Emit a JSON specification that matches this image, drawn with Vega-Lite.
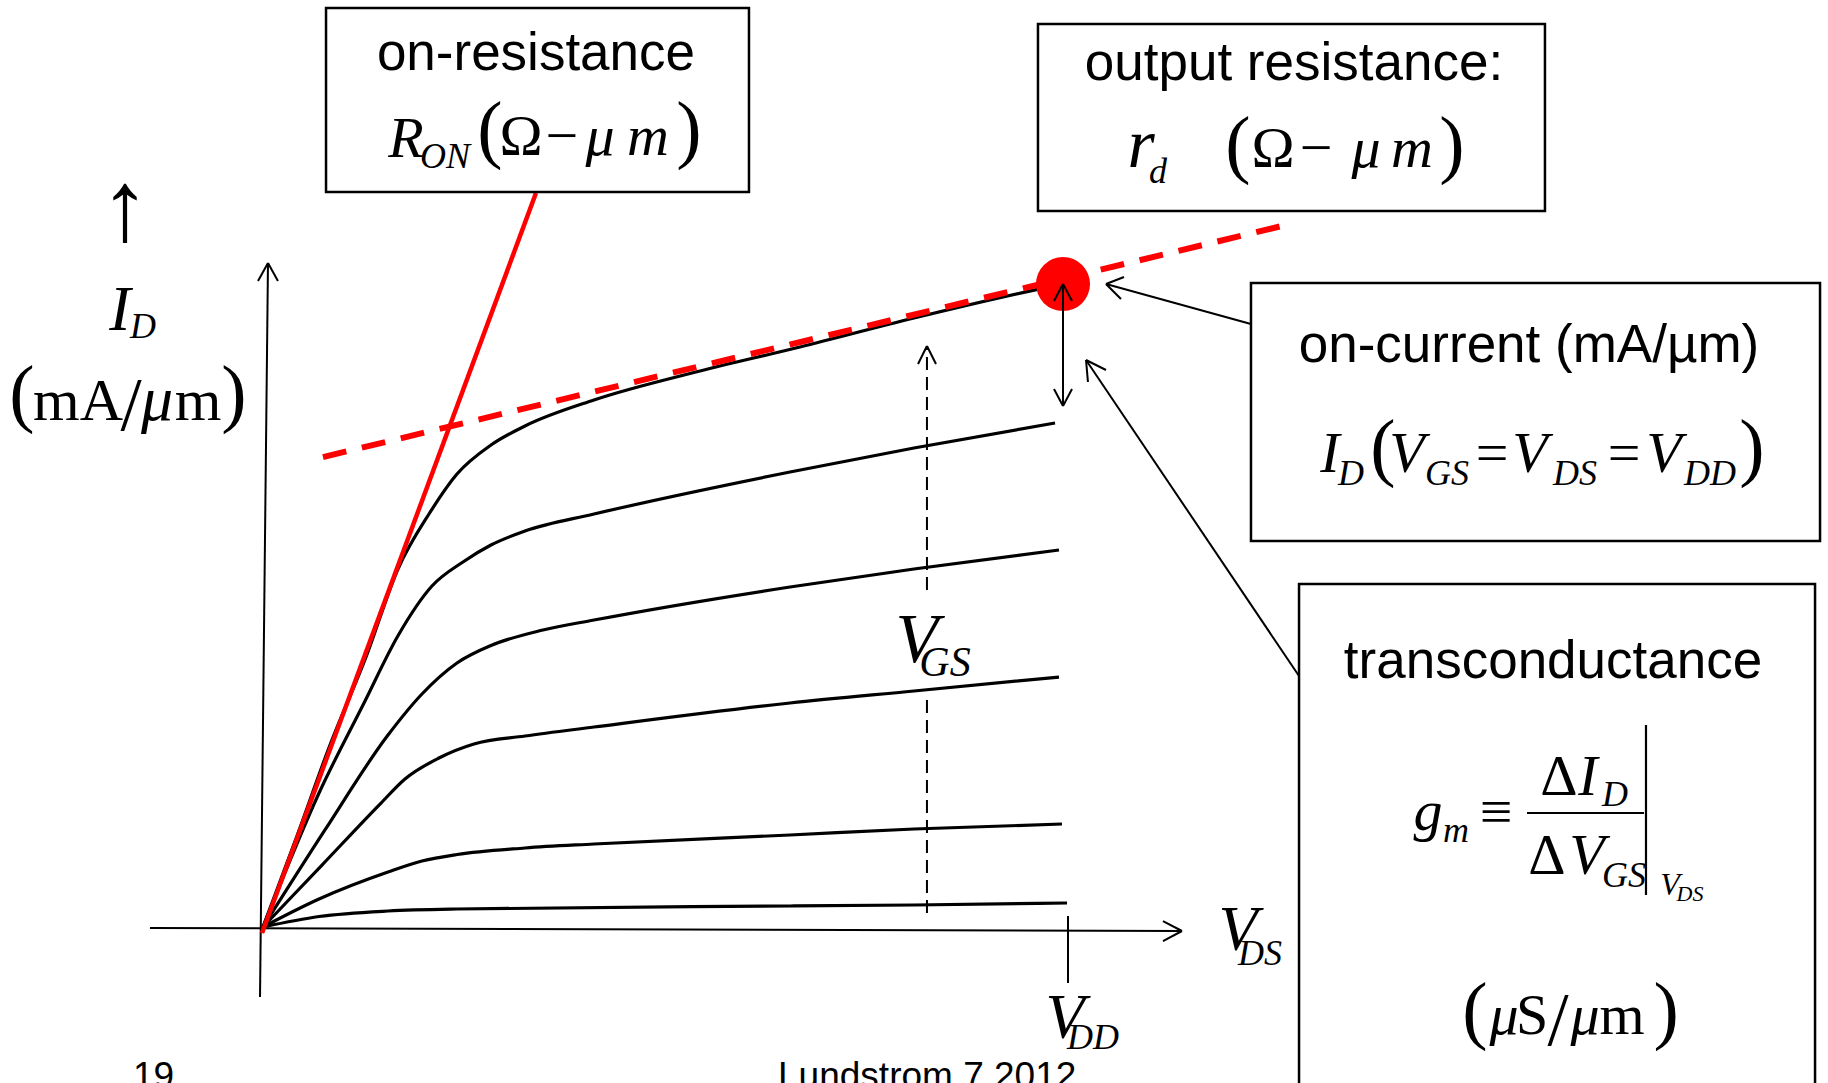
{
  "$schema": "https://vega.github.io/schema/vega-lite/v6.json",
  "width": 1828,
  "height": 1083,
  "autosize": {"type": "fit", "contains": "padding"},
  "padding": 0,
  "background": "white",
  "config": {"view": {"stroke": null}},
  "datasets": {
    "curves": [
      {"curve": 1, "x": 0, "y": 0}, {"curve": 1, "x": 0.0422, "y": 0.1415}, {"curve": 1, "x": 0.0832, "y": 0.2830}, {"curve": 1, "x": 0.1280, "y": 0.4199}, {"curve": 1, "x": 0.1677, "y": 0.5568}, {"curve": 1, "x": 0.2062, "y": 0.6423}, {"curve": 1, "x": 0.2410, "y": 0.7045}, {"curve": 1, "x": 0.2832, "y": 0.7496}, {"curve": 1, "x": 0.3255, "y": 0.7792}, {"curve": 1, "x": 0.4112, "y": 0.8196}, {"curve": 1, "x": 0.5429, "y": 0.8647}, {"curve": 1, "x": 0.6671, "y": 0.9020}, {"curve": 1, "x": 0.8087, "y": 0.9471}, {"curve": 1, "x": 0.9652, "y": 0.9925}, {"curve": 1, "x": 0.9938, "y": 1.0},
      {"curve": 2, "x": 0, "y": 0}, {"curve": 2, "x": 0.0696, "y": 0.2084}, {"curve": 2, "x": 0.1255, "y": 0.3484}, {"curve": 2, "x": 0.1677, "y": 0.4530}, {"curve": 2, "x": 0.2099, "y": 0.5303}, {"curve": 2, "x": 0.2484, "y": 0.5677}, {"curve": 2, "x": 0.2832, "y": 0.5941}, {"curve": 2, "x": 0.3255, "y": 0.6159}, {"curve": 2, "x": 0.4112, "y": 0.6423}, {"curve": 2, "x": 0.6547, "y": 0.7076}, {"curve": 2, "x": 0.8087, "y": 0.7449}, {"curve": 2, "x": 0.9839, "y": 0.7838},
      {"curve": 3, "x": 0, "y": 0}, {"curve": 3, "x": 0.0770, "y": 0.1509}, {"curve": 3, "x": 0.1553, "y": 0.2986}, {"curve": 3, "x": 0.1975, "y": 0.3624}, {"curve": 3, "x": 0.2410, "y": 0.4106}, {"curve": 3, "x": 0.2832, "y": 0.4378}, {"curve": 3, "x": 0.3478, "y": 0.4619}, {"curve": 3, "x": 0.4112, "y": 0.4774}, {"curve": 3, "x": 0.6547, "y": 0.5288}, {"curve": 3, "x": 0.8087, "y": 0.5568}, {"curve": 3, "x": 0.9888, "y": 0.5863},
      {"curve": 4, "x": 0, "y": 0}, {"curve": 4, "x": 0.0733, "y": 0.0964}, {"curve": 4, "x": 0.1466, "y": 0.1928}, {"curve": 4, "x": 0.1764, "y": 0.2302}, {"curve": 4, "x": 0.2186, "y": 0.2628}, {"curve": 4, "x": 0.2621, "y": 0.2846}, {"curve": 4, "x": 0.3255, "y": 0.2970}, {"curve": 4, "x": 0.4112, "y": 0.3110}, {"curve": 4, "x": 0.6547, "y": 0.3484}, {"curve": 4, "x": 0.8087, "y": 0.3670}, {"curve": 4, "x": 0.9888, "y": 0.3888},
      {"curve": 5, "x": 0, "y": 0}, {"curve": 5, "x": 0.0696, "y": 0.0435}, {"curve": 5, "x": 0.1553, "y": 0.0855}, {"curve": 5, "x": 0.1975, "y": 0.1026}, {"curve": 5, "x": 0.2410, "y": 0.1128}, {"curve": 5, "x": 0.3255, "y": 0.1229}, {"curve": 5, "x": 0.4112, "y": 0.1291}, {"curve": 5, "x": 0.6547, "y": 0.1431}, {"curve": 5, "x": 0.8087, "y": 0.1524}, {"curve": 5, "x": 0.9925, "y": 0.1602},
      {"curve": 6, "x": 0, "y": 0}, {"curve": 6, "x": 0.0696, "y": 0.0163}, {"curve": 6, "x": 0.1553, "y": 0.0249}, {"curve": 6, "x": 0.2410, "y": 0.0280}, {"curve": 6, "x": 0.6547, "y": 0.0327}, {"curve": 6, "x": 0.8087, "y": 0.0342}, {"curve": 6, "x": 0.9988, "y": 0.0373}
    ],
    "segments": [
      {"kind": "axis", "x": -0.0037, "y": -0.1089, "x2": 0.0062, "y2": 1.0327},
      {"kind": "axis", "x": 0.0062, "y": 1.0327, "x2": -0.0062, "y2": 1.0047},
      {"kind": "axis", "x": 0.0062, "y": 1.0327, "x2": 0.0186, "y2": 1.0047},
      {"kind": "axis", "x": -0.1404, "y": -0.0016, "x2": 1.1416, "y2": -0.0062},
      {"kind": "axis", "x": 1.1416, "y": -0.0062, "x2": 1.1180, "y2": 0.0093},
      {"kind": "axis", "x": 1.1416, "y": -0.0062, "x2": 1.1180, "y2": -0.0218},
      {"kind": "axis", "x": 1.0, "y": 0.0171, "x2": 1.0, "y2": -0.0871},
      {"kind": "pointer", "x": 0.9938, "y": 1.0, "x2": 0.9938, "y2": 0.8103},
      {"kind": "pointer", "x": 0.9938, "y": 1.0, "x2": 0.9826, "y2": 0.9736},
      {"kind": "pointer", "x": 0.9938, "y": 1.0, "x2": 1.0050, "y2": 0.9736},
      {"kind": "pointer", "x": 0.9938, "y": 0.8103, "x2": 0.9826, "y2": 0.8367},
      {"kind": "pointer", "x": 0.9938, "y": 0.8103, "x2": 1.0050, "y2": 0.8367},
      {"kind": "pointer", "x": 1.2273, "y": 0.9378, "x2": 1.0472, "y2": 1.0},
      {"kind": "pointer", "x": 1.0472, "y": 1.0, "x2": 1.0696, "y2": 1.0109},
      {"kind": "pointer", "x": 1.0472, "y": 1.0, "x2": 1.0658, "y2": 0.9767},
      {"kind": "pointer", "x": 1.2870, "y": 0.3904, "x2": 1.0224, "y2": 0.8818},
      {"kind": "pointer", "x": 1.0224, "y": 0.8818, "x2": 1.0248, "y2": 0.8476},
      {"kind": "pointer", "x": 1.0224, "y": 0.8818, "x2": 1.0472, "y2": 0.8663},
      {"kind": "pointer", "x": 0.8248, "y": 0.9036, "x2": 0.8137, "y2": 0.8756},
      {"kind": "pointer", "x": 0.8248, "y": 0.9036, "x2": 0.8360, "y2": 0.8756},
      {"kind": "formula", "x": 1.5702, "y": 0.1773, "x2": 1.7155, "y2": 0.1773},
      {"kind": "formula", "x": 1.7180, "y": 0.3142, "x2": 1.7180, "y2": 0.0498},
      {"kind": "vgs", "x": 0.8248, "y": 0.0218, "x2": 0.8248, "y2": 0.3639},
      {"kind": "vgs", "x": 0.8248, "y": 0.5241, "x2": 0.8248, "y2": 0.9036},
      {"kind": "ron", "x": -0.0012, "y": -0.0093, "x2": 0.3391, "y2": 1.1415},
      {"kind": "rd", "x": 0.0745, "y": 0.7309, "x2": 1.2708, "y2": 1.0918}
    ],
    "ion": [{"x": 0.9938, "y": 1.0}],
    "boxes": [
      {"box": "on-resistance", "x": 0.0783, "y": 1.4292, "x2": 0.6037, "y2": 1.1431},
      {"box": "output resistance", "x": 0.9627, "y": 1.4044, "x2": 1.5925, "y2": 1.1135},
      {"box": "on-current", "x": 1.2273, "y": 1.0016, "x2": 1.9342, "y2": 0.6003},
      {"box": "transconductance", "x": 1.2870, "y": 0.5334, "x2": 1.9280, "y2": -0.2691}
    ],
    "labels": [
      {"text": "on-resistance", "role": "text", "x": 0.3391, "y": 1.3328},
      {"text": "output resistance:", "role": "text", "x": 1.2807, "y": 1.3173},
      {"text": "on-current (mA/µm)", "role": "text", "x": 1.5727, "y": 0.8787},
      {"text": "transconductance", "role": "text", "x": 1.6025, "y": 0.3872},
      {"text": "19", "role": "footer", "x": -0.1615, "y": -0.2504},
      {"text": "Lundstrom 7.2012", "role": "footer", "x": 0.6398, "y": -0.2504},
      {"text": "↑", "role": "arrowglyph", "x": -0.1714, "y": 1.0684},
      {"text": "I", "role": "bigvar", "x": -0.1777, "y": 0.9285},
      {"text": "μ", "role": "bigvar", "x": -0.1317, "y": 0.7885},
      {"text": "V", "role": "bigvar", "x": 1.2112, "y": -0.0358},
      {"text": "V", "role": "bigvar", "x": 0.9963, "y": -0.1726},
      {"text": "V", "role": "hugevar", "x": 0.8124, "y": 0.4121},
      {"text": "r", "role": "hugevar", "x": 1.0907, "y": 1.1820},
      {"text": "D", "role": "sub", "x": -0.1491, "y": 0.9160},
      {"text": "ON", "role": "sub", "x": 0.2261, "y": 1.1804},
      {"text": "d", "role": "sub", "x": 1.1118, "y": 1.1571},
      {"text": "D", "role": "sub", "x": 1.3516, "y": 0.6874},
      {"text": "GS", "role": "sub", "x": 1.4708, "y": 0.6874},
      {"text": "DS", "role": "sub", "x": 1.6298, "y": 0.6874},
      {"text": "DD", "role": "sub", "x": 1.7975, "y": 0.6874},
      {"text": "m", "role": "sub", "x": 1.4820, "y": 0.1322},
      {"text": "D", "role": "sub", "x": 1.6795, "y": 0.1882},
      {"text": "GS", "role": "sub", "x": 1.6907, "y": 0.0622},
      {"text": "DS", "role": "sub", "x": 1.2385, "y": -0.0591},
      {"text": "DD", "role": "sub", "x": 1.0311, "y": -0.1897},
      {"text": "GS", "role": "bigsub", "x": 0.8472, "y": 0.3904},
      {"text": "R", "role": "var", "x": 0.1776, "y": 1.1975},
      {"text": "μ", "role": "var", "x": 0.4186, "y": 1.2006},
      {"text": "m", "role": "var", "x": 0.4783, "y": 1.2006},
      {"text": "μ", "role": "var", "x": 1.3702, "y": 1.1820},
      {"text": "m", "role": "var", "x": 1.4273, "y": 1.1820},
      {"text": "I", "role": "var", "x": 1.3255, "y": 0.7076},
      {"text": "V", "role": "var", "x": 1.4211, "y": 0.7076},
      {"text": "V", "role": "var", "x": 1.5739, "y": 0.7076},
      {"text": "V", "role": "var", "x": 1.7404, "y": 0.7076},
      {"text": "g", "role": "var", "x": 1.4472, "y": 0.1509},
      {"text": "I", "role": "var", "x": 1.6460, "y": 0.2053},
      {"text": "V", "role": "var", "x": 1.6447, "y": 0.0824},
      {"text": "μ", "role": "var", "x": 1.5416, "y": -0.1664},
      {"text": "μ", "role": "var", "x": 1.6422, "y": -0.1664},
      {"text": "Ω", "role": "sym", "x": 0.3205, "y": 1.2006},
      {"text": "−", "role": "sym", "x": 0.3714, "y": 1.2006},
      {"text": "Ω", "role": "sym", "x": 1.2547, "y": 1.1820},
      {"text": "−", "role": "sym", "x": 1.3081, "y": 1.1820},
      {"text": "=", "role": "sym", "x": 1.5267, "y": 0.7076},
      {"text": "=", "role": "sym", "x": 1.6907, "y": 0.7076},
      {"text": "≡", "role": "sym", "x": 1.5317, "y": 0.1493},
      {"text": "Δ", "role": "sym", "x": 1.6099, "y": 0.2053},
      {"text": "Δ", "role": "sym", "x": 1.5950, "y": 0.0824},
      {"text": "S", "role": "sym", "x": 1.5764, "y": -0.1664},
      {"text": "m", "role": "sym", "x": 1.6882, "y": -0.1664},
      {"text": "mA", "role": "bigsym", "x": -0.2298, "y": 0.7885},
      {"text": "m", "role": "bigsym", "x": -0.0807, "y": 0.7885},
      {"text": "(", "role": "delim", "x": 0.2820, "y": 1.2022},
      {"text": ")", "role": "delim", "x": 0.5292, "y": 1.2022},
      {"text": "(", "role": "delim", "x": 1.2112, "y": 1.1788},
      {"text": ")", "role": "delim", "x": 1.4770, "y": 1.1788},
      {"text": "(", "role": "delim", "x": 1.3913, "y": 0.7076},
      {"text": ")", "role": "delim", "x": 1.8497, "y": 0.7076},
      {"text": "(", "role": "delim", "x": 1.5056, "y": -0.1680},
      {"text": "/", "role": "delim", "x": 1.6087, "y": -0.1835},
      {"text": ")", "role": "delim", "x": 1.7429, "y": -0.1680},
      {"text": "(", "role": "delim", "x": -0.2994, "y": 0.7916},
      {"text": "/", "role": "delim", "x": -0.1640, "y": 0.7729},
      {"text": ")", "role": "delim", "x": -0.0360, "y": 0.7916},
      {"text": "V", "role": "tinyvar", "x": 1.7478, "y": 0.0498},
      {"text": "DS", "role": "tinysub", "x": 1.7727, "y": 0.0404}
    ]
  },
  "encoding": {
    "x": {"field": "x", "type": "quantitative", "scale": {"domain": [-0.3267, 1.9441], "nice": false, "zero": false}, "axis": null},
    "y": {"field": "y", "type": "quantitative", "scale": {"domain": [-0.2426, 1.4417], "nice": false, "zero": false}, "axis": null}
  },
  "layer": [
    {"data": {"name": "segments"}, "transform": [{"filter": {"field": "kind", "equal": "axis"}}],
     "mark": {"type": "rule", "color": "black", "strokeWidth": 2, "clip": true},
     "encoding": {"x2": {"field": "x2"}, "y2": {"field": "y2"}}},
    {"data": {"name": "curves"},
     "mark": {"type": "line", "interpolate": "monotone", "color": "black", "strokeWidth": 3.2, "clip": true},
     "encoding": {"detail": {"field": "curve", "type": "nominal"}}},
    {"data": {"name": "segments"}, "transform": [{"filter": {"field": "kind", "equal": "ron"}}],
     "mark": {"type": "rule", "color": "#ff0000", "strokeWidth": 4.5, "clip": true},
     "encoding": {"x2": {"field": "x2"}, "y2": {"field": "y2"}}},
    {"data": {"name": "segments"}, "transform": [{"filter": {"field": "kind", "equal": "rd"}}],
     "mark": {"type": "rule", "color": "#ff0000", "strokeWidth": 6, "strokeDash": [24, 16], "clip": true},
     "encoding": {"x2": {"field": "x2"}, "y2": {"field": "y2"}}},
    {"data": {"name": "ion"},
     "mark": {"type": "circle", "color": "#ff0000", "opacity": 1, "size": 2922, "clip": true}},
    {"data": {"name": "segments"}, "transform": [{"filter": {"field": "kind", "equal": "pointer"}}],
     "mark": {"type": "rule", "color": "black", "strokeWidth": 2, "clip": true},
     "encoding": {"x2": {"field": "x2"}, "y2": {"field": "y2"}}},
    {"data": {"name": "segments"}, "transform": [{"filter": {"field": "kind", "equal": "vgs"}}],
     "mark": {"type": "rule", "color": "black", "strokeWidth": 2, "strokeDash": [13, 7], "clip": true},
     "encoding": {"x2": {"field": "x2"}, "y2": {"field": "y2"}}},
    {"data": {"name": "boxes"},
     "mark": {"type": "rect", "fill": "white", "stroke": "black", "strokeWidth": 2.5, "clip": true},
     "encoding": {"x2": {"field": "x2"}, "y2": {"field": "y2"}}},
    {"data": {"name": "segments"}, "transform": [{"filter": {"field": "kind", "equal": "formula"}}],
     "mark": {"type": "rule", "color": "black", "strokeWidth": 2.2, "clip": true},
     "encoding": {"x2": {"field": "x2"}, "y2": {"field": "y2"}}},
    {"data": {"name": "labels"}, "transform": [{"filter": {"field": "role", "equal": "text"}}],
     "mark": {"type": "text", "font": "Liberation Sans", "fontSize": 53, "align": "center", "baseline": "alphabetic", "color": "black", "clip": true},
     "encoding": {"text": {"field": "text"}}},
    {"data": {"name": "labels"}, "transform": [{"filter": {"field": "role", "equal": "footer"}}],
     "mark": {"type": "text", "font": "Liberation Sans", "fontSize": 37, "align": "left", "baseline": "alphabetic", "color": "black", "clip": true},
     "encoding": {"text": {"field": "text"}}},
    {"data": {"name": "labels"}, "transform": [{"filter": {"field": "role", "equal": "arrowglyph"}}],
     "mark": {"type": "text", "font": "Liberation Serif", "fontSize": 100, "align": "center", "baseline": "alphabetic", "color": "black", "clip": true},
     "encoding": {"text": {"field": "text"}}},
    {"data": {"name": "labels"}, "transform": [{"filter": {"field": "role", "equal": "hugevar"}}],
     "mark": {"type": "text", "font": "Liberation Serif", "fontStyle": "italic", "fontSize": 70, "align": "center", "baseline": "alphabetic", "color": "black", "clip": true},
     "encoding": {"text": {"field": "text"}}},
    {"data": {"name": "labels"}, "transform": [{"filter": {"field": "role", "equal": "bigvar"}}],
     "mark": {"type": "text", "font": "Liberation Serif", "fontStyle": "italic", "fontSize": 64, "align": "center", "baseline": "alphabetic", "color": "black", "clip": true},
     "encoding": {"text": {"field": "text"}}},
    {"data": {"name": "labels"}, "transform": [{"filter": {"field": "role", "equal": "var"}}],
     "mark": {"type": "text", "font": "Liberation Serif", "fontStyle": "italic", "fontSize": 58, "align": "center", "baseline": "alphabetic", "color": "black", "clip": true},
     "encoding": {"text": {"field": "text"}}},
    {"data": {"name": "labels"}, "transform": [{"filter": {"field": "role", "equal": "sub"}}],
     "mark": {"type": "text", "font": "Liberation Serif", "fontStyle": "italic", "fontSize": 36, "align": "center", "baseline": "alphabetic", "color": "black", "clip": true},
     "encoding": {"text": {"field": "text"}}},
    {"data": {"name": "labels"}, "transform": [{"filter": {"field": "role", "equal": "bigsub"}}],
     "mark": {"type": "text", "font": "Liberation Serif", "fontStyle": "italic", "fontSize": 42, "align": "center", "baseline": "alphabetic", "color": "black", "clip": true},
     "encoding": {"text": {"field": "text"}}},
    {"data": {"name": "labels"}, "transform": [{"filter": {"field": "role", "equal": "sym"}}],
     "mark": {"type": "text", "font": "Liberation Serif", "fontSize": 58, "align": "center", "baseline": "alphabetic", "color": "black", "clip": true},
     "encoding": {"text": {"field": "text"}}},
    {"data": {"name": "labels"}, "transform": [{"filter": {"field": "role", "equal": "bigsym"}}],
     "mark": {"type": "text", "font": "Liberation Serif", "fontSize": 60, "align": "center", "baseline": "alphabetic", "color": "black", "clip": true},
     "encoding": {"text": {"field": "text"}}},
    {"data": {"name": "labels"}, "transform": [{"filter": {"field": "role", "equal": "delim"}}],
     "mark": {"type": "text", "font": "Liberation Serif", "fontSize": 76, "align": "center", "baseline": "alphabetic", "color": "black", "clip": true},
     "encoding": {"text": {"field": "text"}}},
    {"data": {"name": "labels"}, "transform": [{"filter": {"field": "role", "equal": "tinyvar"}}],
     "mark": {"type": "text", "font": "Liberation Serif", "fontStyle": "italic", "fontSize": 32, "align": "center", "baseline": "alphabetic", "color": "black", "clip": true},
     "encoding": {"text": {"field": "text"}}},
    {"data": {"name": "labels"}, "transform": [{"filter": {"field": "role", "equal": "tinysub"}}],
     "mark": {"type": "text", "font": "Liberation Serif", "fontStyle": "italic", "fontSize": 22, "align": "center", "baseline": "alphabetic", "color": "black", "clip": true},
     "encoding": {"text": {"field": "text"}}}
  ]
}
